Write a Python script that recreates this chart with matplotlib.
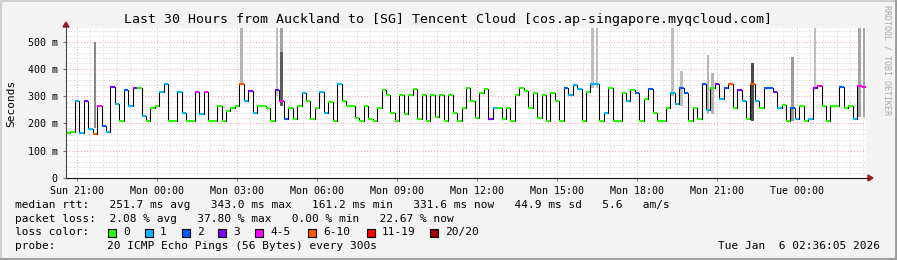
import matplotlib
matplotlib.use("Agg")
import matplotlib.pyplot as plt
import numpy as np
from matplotlib.patches import Rectangle, Polygon

plt.rcParams["font.family"] = "DejaVu Sans Mono"

# ---- data (10 minute steps, hours relative to Sun 21:00) ----
start_hour = -0.4
step_hours = 1 / 6

median_ms = [
    165, 170, 283, 165, 283, 181, 163, 264, 190, 169, 335, 273, 210, 322, 265,
    331, 331, 228, 210, 257, 265, 316, 343, 210, 210, 316, 240, 210, 210, 316,
    236, 316, 210, 210, 265, 210, 245, 257, 265, 343, 283, 318, 240, 265, 265,
    255, 210, 322, 283, 218, 255, 218, 265, 312, 283, 218, 255, 316, 240, 280,
    210, 343, 283, 265, 265, 221, 210, 265, 218, 210, 255, 322, 306, 240, 210,
    306, 235, 306, 326, 218, 306, 210, 306, 225, 306, 210, 306, 240, 210, 255,
    331, 283, 220, 312, 326, 215, 255, 257, 218, 257, 210, 306, 331, 319, 255,
    312, 220, 306, 210, 312, 283, 210, 331, 306, 340, 326, 210, 316, 345, 345,
    210, 240, 331, 210, 210, 312, 283, 322, 312, 210, 290, 326, 240, 210, 210,
    257, 312, 273, 331, 312, 210, 257, 218, 345, 250, 331, 345, 290, 331, 345,
    257, 322, 283, 218, 346, 283, 257, 331, 331, 316, 257, 268, 210, 257, 218,
    265, 210, 218, 331, 339, 265, 210, 265, 265, 333, 255, 265, 218, 339, 333,
]

# lost pings (of 20) per step
loss = [
    0, 0, 1, 1, 3, 1, 6, 4, 2, 1, 3, 1, 0, 2, 1, 3, 0, 1, 0, 0, 0, 1, 1, 0, 0, 1, 1, 0, 0, 4,
    1, 4, 0, 0, 0, 0, 0, 0, 0, 6, 1, 3, 1, 0, 0, 0, 0, 3, 4, 2, 0, 0, 0, 1, 0, 0, 0, 1, 1, 0,
    0, 1, 0, 0, 0, 0, 0, 0, 0, 0, 0, 0, 0, 0, 0, 0, 0, 0, 0, 0, 0, 0, 0, 0, 0, 0, 0, 0, 0, 0,
    0, 0, 0, 0, 0, 3, 1, 0, 0, 0, 0, 0, 0, 0, 0, 0, 0, 0, 0, 0, 0, 0, 2, 1, 1, 1, 0, 0, 1, 1,
    0, 1, 0, 0, 0, 0, 1, 0, 2, 0, 0, 2, 0, 0, 0, 0, 1, 1, 2, 2, 0, 0, 0, 2, 1, 0, 3, 1, 2, 6,
    0, 3, 1, 0, 6, 1, 0, 2, 2, 3, 1, 0, 0, 2, 1, 0, 0, 1, 3, 4, 0, 0, 0, 0, 2, 0, 0, 1, 4, 4,
]

# smoke (ping spread) where it is visible
smoke_step = [6, 39, 47, 48, 48, 118, 119, 136, 138, 144, 145, 154, 163, 168, 178, 179]
smoke_top = [500, 560, 560, 560, 463, 560, 560, 560, 393, 450, 384, 420, 445, 560, 560, 560]
smoke_bot = [185, 340, 300, 300, 265, 330, 330, 300, 265, 235, 235, 210, 210, 330, 225, 225]
smoke_density = [0.45, 0.2, 0.15, 0.3, 0.7, 0.15, 0.15, 0.15, 0.15, 0.2, 0.2, 0.8, 0.35, 0.15, 0.3, 0.3]

tick_hours = [0, 3, 6, 9, 12, 15, 18, 21, 24, 27]
tick_labels = ["Sun 21:00", "Mon 00:00", "Mon 03:00", "Mon 06:00", "Mon 09:00",
               "Mon 12:00", "Mon 15:00", "Mon 18:00", "Mon 21:00", "Tue 00:00"]
ytick_ms = [0, 100, 200, 300, 400, 500]
ytick_labels = ["0", "100 m", "200 m", "300 m", "400 m", "500 m"]

loss_labels = ["0", "1", "2", "3", "4-5", "6-10", "11-19", "20/20"]
loss_colors = ["#26ff00", "#00b8ff", "#0059ff", "#7e00ff", "#ff00ff", "#ff5500", "#ff0000", "#a10000"]
loss_bins = [0, 1, 2, 3, 4, 6, 11, 20]

title = "Last 30 Hours from Auckland to [SG] Tencent Cloud [cos.ap-singapore.myqcloud.com]"
stat_lines = [
    "median rtt:   251.7 ms avg   343.0 ms max   161.2 ms min   331.6 ms now   44.9 ms sd   5.6   am/s",
    "packet loss:  2.08 % avg   37.80 % max   0.00 % min   22.67 % now",
]
probe_text = "20 ICMP Echo Pings (56 Bytes) every 300s"
stamp = "Tue Jan  6 02:36:05 2026"

# ---- figure ----
W, H = 897, 260
fig = plt.figure(figsize=(W / 100, H / 100), dpi=100, facecolor="#f3f3f3")
ax = fig.add_axes([66 / W, (H - 178) / H, 800 / W, 150 / H])
ax.set_facecolor("white")

n = len(median_ms)
edges = start_hour + np.arange(n + 1) * step_hours
med = np.array(median_ms, dtype=float)

# smoke (thin columns like the rrd pixels)
for s, t, b, d in zip(smoke_step, smoke_top, smoke_bot, smoke_density):
    g = 0.85 - 0.7 * d
    ax.bar(edges[s] + step_hours / 2, t - b, bottom=b, width=step_hours * 0.55,
           color=(g, g, g), linewidth=0, zorder=2)

# median line + loss colour
ax.stairs(med, edges, baseline=None, color="black", lw=0.75, zorder=3)
cls = np.searchsorted(loss_bins, loss, side="right") - 1
ax.hlines(med, edges[:-1], edges[1:], colors=[loss_colors[c] for c in cls], lw=1.5, zorder=4)

ax.set_xlim(start_hour, start_hour + n * step_hours)
ax.set_ylim(0, 550)
ax.set_xticks(tick_hours)
ax.set_xticklabels(tick_labels, fontsize=7.2)
ax.set_xticks(np.arange(-0.0, 29.6, 0.5), minor=True)
ax.set_yticks(ytick_ms)
ax.set_yticklabels(ytick_labels, fontsize=7.2)
ax.set_yticks(np.arange(0, 550, 20), minor=True)
ax.tick_params(which="both", length=2, width=0.6, color="#555555", pad=4)
ax.tick_params(which="minor", length=0)

dot = (0, (1, 2))
ax.grid(which="minor", color="#c8c8c8", lw=0.6, ls=dot, zorder=0)
ax.grid(which="major", color="#f0a0a0", lw=0.7, ls=dot, zorder=1)
for sp in ax.spines.values():
    sp.set_visible(False)

# ---- overlay in pixel coordinates ----
ov = fig.add_axes([0, 0, 1, 1], zorder=5)
ov.set_xlim(0, W)
ov.set_ylim(H, 0)
ov.axis("off")
ov.patch.set_alpha(0)

# axes with arrows
ov.plot([66, 868], [178, 178], color="#111111", lw=0.8)
ov.plot([66, 66], [178, 26], color="#444444", lw=0.8)
ov.add_patch(Polygon([[868, 175], [868, 181], [873, 178]], closed=True, color="#9b1b1b"))
ov.add_patch(Polygon([[63, 27], [69, 27], [66, 22]], closed=True, color="#9b1b1b"))

# frame
ov.plot([0.5, 0.5, W - 1], [H - 1, 0.5, 0.5], color="#d0d0d0", lw=1.5)
ov.plot([0.5, W - 1, W - 1], [H - 1, H - 1, 0.5], color="#9a9a9a", lw=2)

ov.text(W / 2, 23, title, fontsize=9.5, ha="center", va="baseline")
ov.text(11, 103, "Seconds", fontsize=8, rotation=90, ha="center", va="center")
ov.text(887, 5, "RRDTOOL / TOBI OETIKER", fontsize=6, rotation=270, color="#aaaaaa",
        ha="center", va="top")

ov.text(15, 208, stat_lines[0], fontsize=8, va="baseline")
ov.text(15, 221.7, stat_lines[1], fontsize=8, va="baseline")
ov.text(15, 235.4, "loss color:", fontsize=8, va="baseline")
swatch_x = [108, 145, 182, 218, 255, 308, 367, 430]
for x, lab, col in zip(swatch_x, loss_labels, loss_colors):
    ov.add_patch(Rectangle((x, 229), 8, 8, facecolor=col, edgecolor="black", lw=0.8))
    ov.text(x + 15, 235.4, lab, fontsize=8, va="baseline")
ov.text(15, 249, "probe:", fontsize=8, va="baseline")
ov.text(107, 249, probe_text, fontsize=8, va="baseline")
ov.text(880, 249, stamp, fontsize=8, va="baseline", ha="right")

fig.savefig("out.png", dpi=100, facecolor=fig.get_facecolor())
